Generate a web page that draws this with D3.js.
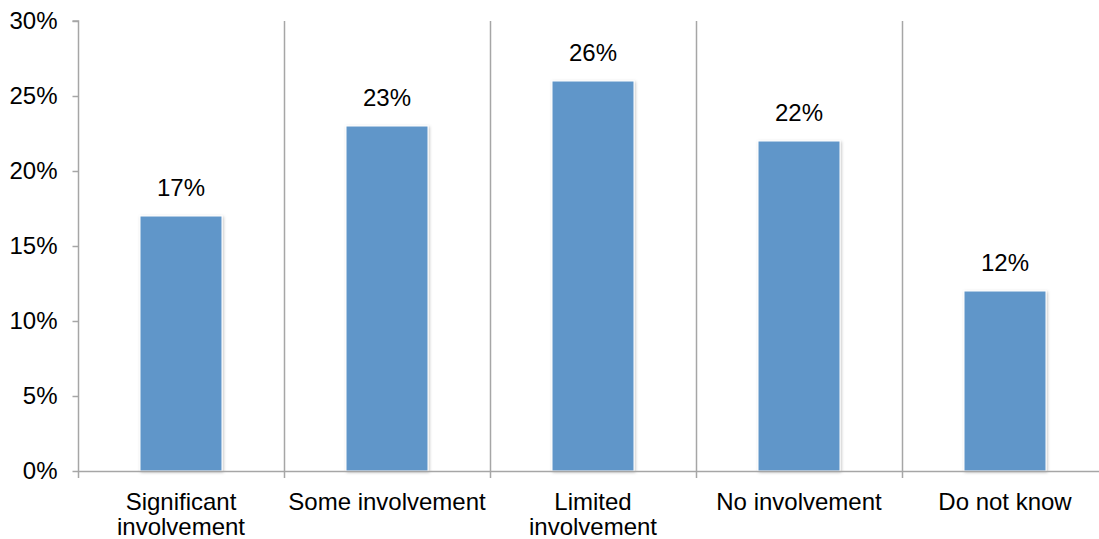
<!DOCTYPE html>
<html>
<head>
<meta charset="utf-8">
<script src="https://cdn.jsdelivr.net/npm/d3@7"></script>
<style>
  html, body { margin: 0; padding: 0; background: #fff; overflow: hidden; }
  svg { display: block; font-family: "Liberation Sans", Arial, sans-serif; }
</style>
</head>
<body>
<svg id="chart" width="1099" height="539"></svg>
<script>
// Survey responses: level of involvement
const categories = [
  ["Significant", "involvement"],
  ["Some involvement"],
  ["Limited", "involvement"],
  ["No involvement"],
  ["Do not know"]
];
const values = [17, 23, 26, 22, 12];
const yTicks = [0, 5, 10, 15, 20, 25, 30];

const svg = d3.select("#chart");
const margin = { left: 78, top: 21, right: -9, bottom: 68 };
const W = 1099, H = 539;
const x0 = margin.left, x1 = W - margin.right;
const y0 = H - margin.bottom, y1 = margin.top;

const keys = categories.map((c, i) => i);
const x = d3.scaleBand().domain(keys).range([x0, x1]).paddingInner(0).paddingOuter(0);
const y = d3.scaleLinear().domain([0, 30]).range([y0, y1]);

const axisColor = "#a6a6a6";
const fontSize = 24;

// Bar shadow filter
const defs = svg.append("defs");
const f = defs.append("filter").attr("id", "shadow").attr("x", "-20%").attr("y", "-20%").attr("width", "140%").attr("height", "140%");
f.append("feDropShadow").attr("dx", 1).attr("dy", 1).attr("stdDeviation", 1.5)
  .attr("flood-color", "#000").attr("flood-opacity", 0.25);

// Category divider lines
const dividers = d3.range(1, categories.length).map(i => x(i));
svg.append("g").selectAll("line").data(dividers).join("line")
  .attr("x1", d => Math.round(d) + 0.5).attr("x2", d => Math.round(d) + 0.5)
  .attr("y1", y1).attr("y2", y0 + 7)
  .attr("stroke", axisColor).attr("stroke-width", 1.5);

// Bars
const barW = 82;
svg.append("g").selectAll("rect").data(values).join("rect")
  .attr("x", (d, i) => x(i) + x.bandwidth() / 2 - barW / 2)
  .attr("y", d => y(d))
  .attr("width", barW)
  .attr("height", d => y(0) - y(d))
  .attr("fill", "#6196c9")
  .attr("stroke", "#ffffff")
  .attr("stroke-width", 1)
  .attr("filter", "url(#shadow)");

// Value labels
svg.append("g").selectAll("text").data(values).join("text")
  .attr("x", (d, i) => x(i) + x.bandwidth() / 2)
  .attr("y", d => y(d) - 20)
  .attr("text-anchor", "middle")
  .attr("font-size", fontSize)
  .attr("fill", "#000")
  .text(d => d + "%");

// Y axis
const yAxis = d3.axisLeft(y).tickValues(yTicks).tickSize(6).tickPadding(15)
  .tickFormat(d => d + "%");
const gy = svg.append("g").attr("transform", `translate(${x0 + 0.5},0)`).call(yAxis);
gy.select(".domain").attr("stroke", axisColor).attr("stroke-width", 1.5).attr("d", `M-6,${y1}H0V${y0}`);
gy.selectAll(".tick line").attr("stroke", axisColor).attr("stroke-width", 1.5);
gy.selectAll(".tick text").attr("font-size", fontSize).attr("fill", "#000")
  .attr("font-family", "'Liberation Sans', Arial, sans-serif");

// X axis baseline and ticks
svg.append("line")
  .attr("x1", x0).attr("x2", W).attr("y1", y0 + 0.5).attr("y2", y0 + 0.5)
  .attr("stroke", axisColor).attr("stroke-width", 1.5);
svg.append("line")
  .attr("x1", x0 + 0.5).attr("x2", x0 + 0.5).attr("y1", y0).attr("y2", y0 + 7)
  .attr("stroke", axisColor).attr("stroke-width", 1.5);

// Category labels
const lab = svg.append("g").selectAll("text").data(categories).join("text")
  .attr("text-anchor", "middle")
  .attr("font-size", fontSize)
  .attr("fill", "#000");
lab.each(function (lines, i) {
  const t = d3.select(this);
  lines.forEach((s, j) => {
    t.append("tspan")
      .attr("x", x(i) + x.bandwidth() / 2)
      .attr("y", 510 + j * 25)
      .text(s);
  });
});
</script>
</body>
</html>
